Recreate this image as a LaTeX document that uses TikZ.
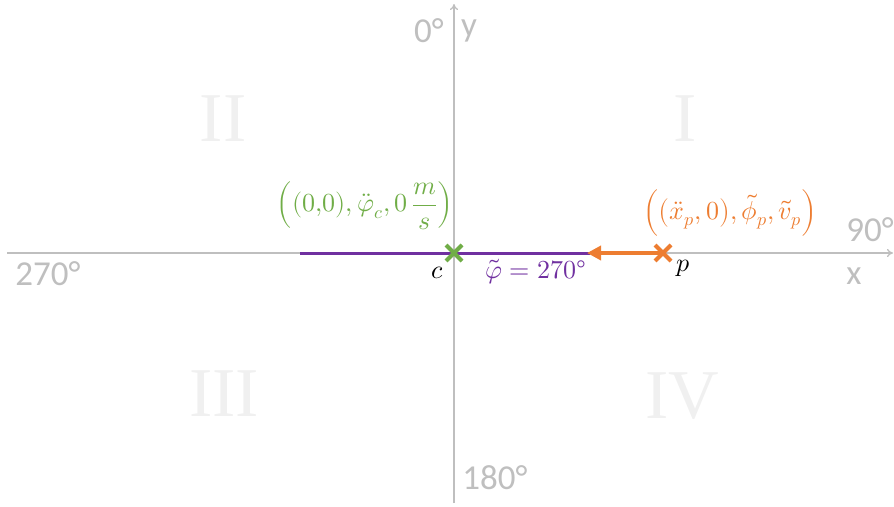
\documentclass[tikz,border=0pt]{standalone}
\usepackage{fontspec}
\usepackage{unicode-math}
\setmainfont{Carlito}
\setmathfont{Latin Modern Math}
\newfontfamily\romanfont{Liberation Serif}
\usetikzlibrary{arrows.meta,calc}
\definecolor{axisgray}{HTML}{BFBFBF}
\definecolor{quadgray}{HTML}{F0F0F0}
\definecolor{cgreen}{HTML}{70AD47}
\definecolor{corange}{HTML}{ED7D31}
\definecolor{cpurple}{HTML}{7030A0}
\tikzset{
  axisline/.style={draw=axisgray, line width=1.3pt, -{To[length=6pt,width=8pt]}},
  axislabel/.style={text=axisgray, font=\fontsize{35}{40}\selectfont, inner sep=0pt},
  quadlabel/.style={text=quadgray, font=\romanfont\fontsize{70}{72}\selectfont, inner sep=0pt},
  mathlabel/.style={font=\fontsize{26}{30}\selectfont, inner sep=0pt},
  crossline/.style={line width=4pt},
}
\begin{document}
\begin{tikzpicture}[x=1pt,y=-1pt]
\useasboundingbox (0,0) rectangle (894,506);
% quadrant numerals
\node[quadlabel] (q2) at (223,119) {II};
\node[quadlabel] (q1) at (685,119) {I};
\node[quadlabel] (q3) at (224,394) {III};
\node[quadlabel] (q4) at (682,396) {IV};
% axes
\coordinate (xl) at (7,253);
\coordinate (xr) at (893,253);
\coordinate (yb) at (454,503);
\coordinate (yt) at (454,4);
\draw[axisline] (xl) -- (xr);
\draw[axisline] (yb) -- (yt);
\node[axislabel] (l0) at (429,31) {0°};
\node[axislabel] (ly) at (469,31) {y};
\node[axislabel] (l90) at (870,230) {90°};
\node[axislabel] (lx) at (854,276) {x};
\node[axislabel] (l270) at (48,274) {270°};
\node[axislabel] (l180) at (495,478) {180°};
% points
\coordinate (c) at (454,253);
\coordinate (p) at (663,253);
\coordinate (pl) at (300,253);
\coordinate (pr) at (590,253);
\draw[cpurple, line width=3pt] (pl) -- (pr);
\draw[corange, line width=3.8pt, -{Triangle[length=14pt,width=14pt]}] (p) -- (587,253);
\draw[cgreen, crossline] ($(c)+(-8,-8)$) -- ($(c)+(8,8)$) ($(c)+(-8,8)$) -- ($(c)+(8,-8)$);
\draw[corange, crossline] ($(p)+(-8,-8)$) -- ($(p)+(8,8)$) ($(p)+(-8,8)$) -- ($(p)+(8,-8)$);
% labels
\node[mathlabel] (lc) at (437,273) {$c$};
\node[mathlabel] (lp) at (683,268) {$p$};
\node[mathlabel, text=cpurple] (lphi) at (536,272) {$\tilde{\varphi}=270°$};
\node[mathlabel, text=cgreen] (lg) at (365,206) {$\left((0{,}0),\ddot{\varphi}_c,0\,\dfrac{m}{s}\right)$};
\node[mathlabel, text=corange] (lo) at (730,213) {$\Bigl(\bigl(\ddot{x}_p,0\bigr),\tilde{\phi}_p,\tilde{v}_p\Bigr)$};
\end{tikzpicture}
\end{document}
